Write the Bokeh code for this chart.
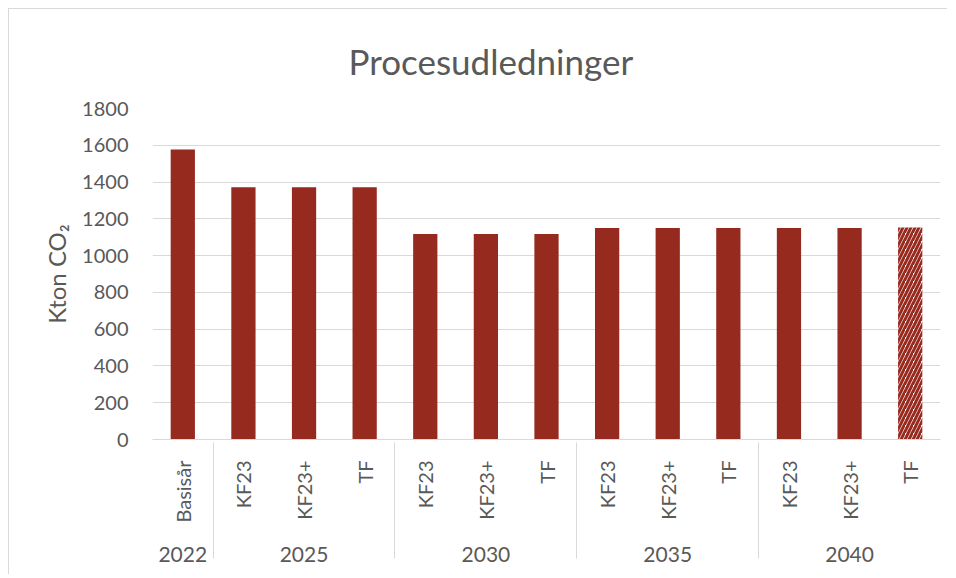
import math
from bokeh.plotting import figure
from bokeh.models import ColumnDataSource, FactorRange, Range1d, FixedTicker
from bokeh.embed import file_html
from bokeh.resources import INLINE

# ---- data ----
years = ["2022", "2025", "2025", "2025", "2030", "2030", "2030",
         "2035", "2035", "2035", "2040", "2040", "2040"]
scenarios = ["Basisår", "KF23", "KF23+", "TF", "KF23", "KF23+", "TF",
             "KF23", "KF23+", "TF", "KF23", "KF23+", "TF"]
values = [1577, 1372, 1372, 1372, 1118, 1118, 1118,
          1150, 1150, 1150, 1150, 1150, 1153]
hatched = [False, False, False, False, False, False, False,
           False, False, False, False, False, True]
y_ticks = [0, 200, 400, 600, 800, 1000, 1200, 1400, 1600, 1800]

title_text = "Procesudledninger"
y_label = "Kton CO₂"

BAR = "#962A1F"
TXT = "#595959"
GRID = "#d9d9d9"
FONT = "Lato"

factors = list(zip(years, scenarios))
solid = ColumnDataSource(dict(
    x=[f for f, h in zip(factors, hatched) if not h],
    top=[v for v, h in zip(values, hatched) if not h]))
hatch = ColumnDataSource(dict(
    x=[f for f, h in zip(factors, hatched) if h],
    top=[v for v, h in zip(values, hatched) if h]))

p = figure(width=939, height=566, output_backend="svg", toolbar_location=None,
           x_range=FactorRange(*factors, factor_padding=0, group_padding=0,
                               subgroup_padding=0, range_padding=0),
           y_range=Range1d(0, 1800),
           min_border_left=143, min_border_right=8, min_border_top=99,
           min_border_bottom=136)
p.styles = {"margin-top": "8px", "margin-left": "8px",
            "border-left": "1px solid #d9d9d9", "border-top": "1px solid #d9d9d9"}

p.vbar(x="x", top="top", width=0.4, source=solid, fill_color=BAR, line_color=None)
p.vbar(x="x", top="top", width=0.4, source=hatch, fill_color="white", line_color=None,
       hatch_pattern="/", hatch_color=BAR, hatch_scale=8, hatch_weight=3)

p.title.text = title_text
p.title.align = "left"
p.title.offset = 196
p.title.standoff = 54
p.title.text_font = FONT
p.title.text_font_size = "35px"
p.title.text_font_style = "normal"
p.title.text_color = TXT

p.outline_line_color = None
p.xgrid.grid_line_color = None
p.ygrid.grid_line_color = GRID
p.ygrid.grid_line_width = 1

ya = p.yaxis[0]
ya.ticker = FixedTicker(ticks=y_ticks)
ya.axis_line_color = None
ya.major_tick_line_color = None
ya.minor_tick_line_color = None
ya.major_tick_out = 0
ya.major_label_standoff = 24
ya.major_label_text_font = FONT
ya.major_label_text_font_size = "20px"
ya.major_label_text_color = TXT
ya.axis_label = y_label
ya.axis_label_text_font = FONT
ya.axis_label_text_font_size = "24px"
ya.axis_label_text_font_style = "normal"
ya.axis_label_text_color = TXT
ya.axis_label_standoff = 8

xa = p.xaxis[0]
xa.axis_line_color = GRID
xa.major_tick_line_color = None
xa.major_tick_out = 0
xa.major_label_orientation = math.pi / 2
xa.major_label_standoff = 21
xa.major_label_text_font = FONT
xa.major_label_text_font_size = "20px"
xa.major_label_text_color = TXT
xa.group_text_font = FONT
xa.group_text_font_size = "21px"
xa.group_text_font_style = "normal"
xa.group_text_color = TXT
xa.group_label_orientation = "horizontal"
xa.separator_line_color = GRID
xa.separator_line_width = 1

open("out.html", "w").write(file_html(p, INLINE))
